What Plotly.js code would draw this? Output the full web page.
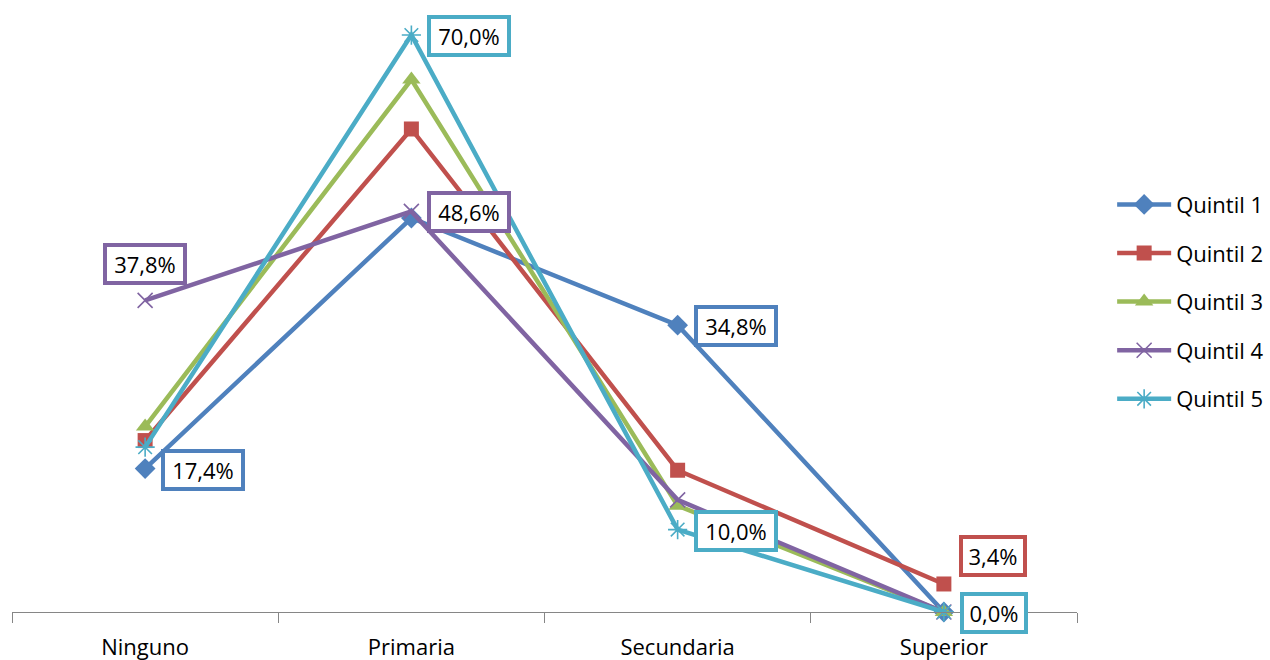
<!DOCTYPE html>
<html>
<head>
<meta charset="utf-8">
<script src="https://cdn.plot.ly/plotly-3.0.1.min.js"></script>
<style>
  html, body { margin: 0; padding: 0; background: #ffffff; }
  #chart { width: 1270px; height: 660px; }
</style>
</head>
<body>
<div id="chart"></div>
<script>
// Nivel educativo alcanzado, por quintil de ingreso (%)
const categorias = ["Ninguno", "Primaria", "Secundaria", "Superior"];

const quintil1 = [17.4, 47.8, 34.8, 0.0];
const quintil2 = [20.8, 58.6, 17.2, 3.4];
const quintil3 = [22.5, 64.6, 12.9, 0.0];
const quintil4 = [37.8, 48.6, 13.6, 0.0];
const quintil5 = [20.0, 70.0, 10.0, 0.0];

const nombres = ["Quintil 1", "Quintil 2", "Quintil 3", "Quintil 4", "Quintil 5"];
const colores = ["#4F81BD", "#C0504D", "#9BBB59", "#8064A2", "#4BACC6"];

const series = [quintil1, quintil2, quintil3, quintil4, quintil5];

// marker style per series
const marcadores = [
  { symbol: "diamond", size: 16 },
  { symbol: "square", size: 15 },
  { symbol: "triangle-up", size: 16 },
  { symbol: "x-thin-open", size: 15, lineOnly: true },
  { symbol: "asterisk-open", size: 16, lineOnly: true }
];

const FONT = "'Open Sans', 'Liberation Sans', sans-serif";

const traces = series.map((vals, i) => {
  const m = marcadores[i];
  return {
    type: "scatter",
    mode: "lines+markers",
    name: nombres[i],
    legendgroup: "g" + i,
    x: categorias,
    y: vals,
    cliponaxis: false,
    line: { color: colores[i], width: 4.5 },
    marker: {
      symbol: m.symbol,
      size: m.size,
      color: colores[i],
      line: { color: colores[i], width: m.lineOnly ? 1.6 : 0 }
    },
    hoverinfo: "skip"
  };
});

// data labels: [series index, category index, placement]
const etiquetas = [
  [0, 0, "right"],
  [4, 1, "right"],
  [3, 1, "right"],
  [3, 0, "above"],
  [0, 2, "right"],
  [4, 2, "right"],
  [1, 3, "aboveright"],
  [4, 3, "right"]
];

function fmt(v) {
  return v.toFixed(1).replace(".", ",") + "%";
}

const annotations = etiquetas.map(([s, c, pos]) => {
  const v = series[s][c];
  const txt = fmt(v);
  const narrow = txt.length <= 4;
  const a = {
    x: categorias[c],
    y: v,
    xref: "x",
    yref: "y",
    text: txt,
    showarrow: false,
    font: { family: FONT, size: 22, color: "#000000" },
    bgcolor: "#ffffff",
    bordercolor: colores[s],
    borderwidth: 4,
    borderpad: 2,
    width: narrow ? 56 : 72,
    height: 30,
    align: "center",
    valign: "middle"
  };
  if (pos === "right") {
    a.xanchor = "left";
    a.yanchor = "middle";
    a.xshift = 16;
    a.yshift = -1;
  } else if (pos === "above") {
    a.xanchor = "center";
    a.yanchor = "middle";
    a.yshift = 36;
  } else {
    a.xanchor = "center";
    a.yanchor = "middle";
    a.xshift = 49;
    a.yshift = 28;
  }
  return a;
});

const layout = {
  width: 1270,
  height: 660,
  paper_bgcolor: "#ffffff",
  plot_bgcolor: "#ffffff",
  margin: { l: 12, r: 193, t: 0, b: 48 },
  font: { family: FONT, size: 22, color: "#000000" },
  showlegend: true,
  legend: {
    x: 1.033,
    xanchor: "left",
    y: 0.700,
    yanchor: "top",
    traceorder: "grouped",
    tracegroupgap: 17,
    itemwidth: 54,
    font: { family: FONT, size: 22, color: "#000000" },
    bgcolor: "rgba(0,0,0,0)"
  },
  xaxis: {
    type: "category",
    range: [-0.5, 3.5],
    showgrid: false,
    zeroline: false,
    showline: true,
    linecolor: "#868686",
    linewidth: 1,
    ticks: "outside",
    tickson: "boundaries",
    ticklen: 10,
    tickcolor: "#868686",
    tickwidth: 1,
    tickfont: { family: FONT, size: 22, color: "#000000" },
    ticklabelstandoff: 16,
    fixedrange: true
  },
  yaxis: {
    range: [0, 74.25],
    visible: false,
    showgrid: false,
    zeroline: false,
    fixedrange: true
  },
  annotations: annotations
};

Plotly.newPlot("chart", traces, layout, { displayModeBar: false, staticPlot: true });
</script>
</body>
</html>
